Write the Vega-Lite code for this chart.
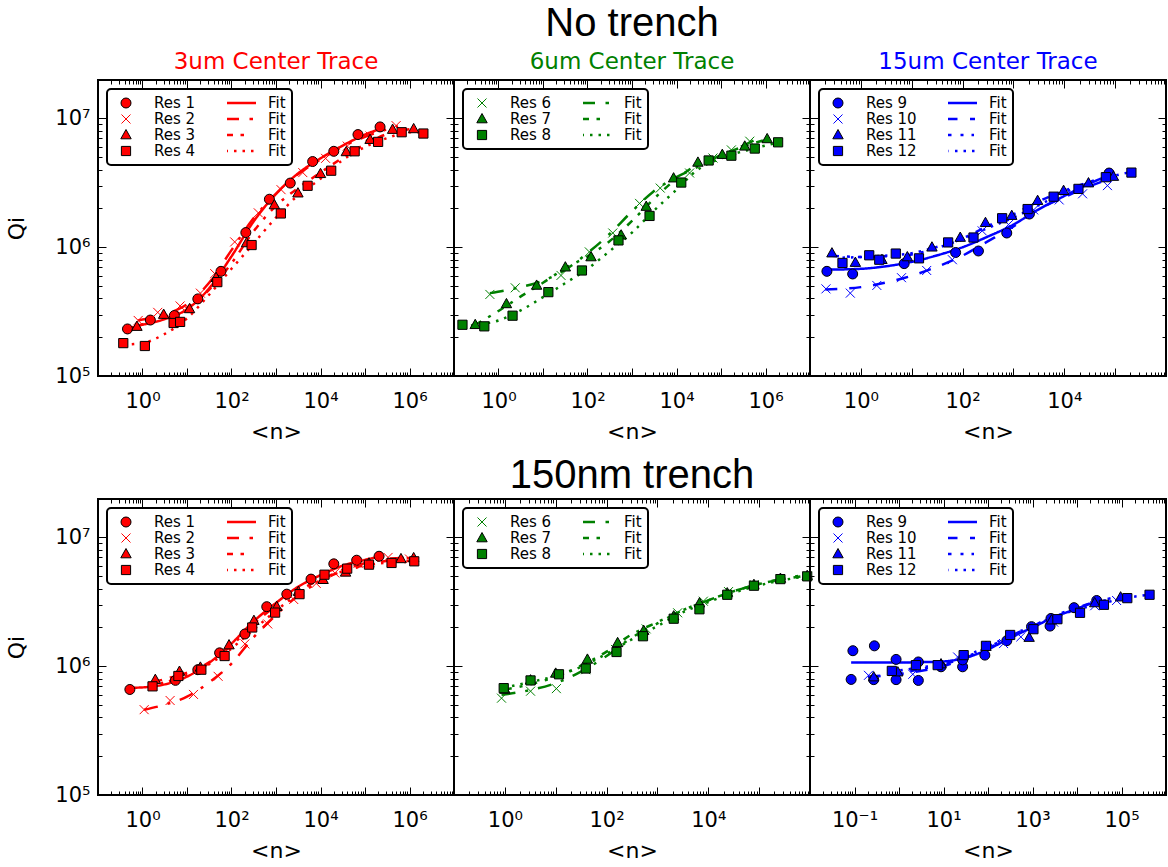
{
  "$schema": "https://vega.github.io/schema/vega-lite/v6.json",
  "background": "white",
  "padding": {"left": 4, "top": 3, "right": 0, "bottom": 0},
  "datasets": {
    "top3": [
      {"series": "Res 1", "n": 0.46, "qi": 232000}, {"series": "Res 1", "n": 1.5, "qi": 272000}, {"series": "Res 1", "n": 5.2, "qi": 295000}, {"series": "Res 1", "n": 17.5, "qi": 397000}, {"series": "Res 1", "n": 58, "qi": 650000}, {"series": "Res 1", "n": 210, "qi": 1300000}, {"series": "Res 1", "n": 710, "qi": 2360000}, {"series": "Res 1", "n": 2090, "qi": 3150000}, {"series": "Res 1", "n": 6660, "qi": 4630000}, {"series": "Res 1", "n": 19900, "qi": 5560000}, {"series": "Res 1", "n": 69500, "qi": 7500000}, {"series": "Res 1", "n": 218000, "qi": 8600000},
      {"series": "Res 2", "n": 0.8, "qi": 270000}, {"series": "Res 2", "n": 2.2, "qi": 312000}, {"series": "Res 2", "n": 7, "qi": 350000}, {"series": "Res 2", "n": 20, "qi": 440000}, {"series": "Res 2", "n": 42, "qi": 624000}, {"series": "Res 2", "n": 118, "qi": 1100000}, {"series": "Res 2", "n": 400, "qi": 1850000}, {"series": "Res 2", "n": 1300, "qi": 2800000}, {"series": "Res 2", "n": 4000, "qi": 3800000}, {"series": "Res 2", "n": 13000, "qi": 4900000}, {"series": "Res 2", "n": 40000, "qi": 6100000}, {"series": "Res 2", "n": 130000, "qi": 7300000}, {"series": "Res 2", "n": 500000, "qi": 8800000},
      {"series": "Res 3", "n": 0.75, "qi": 242000}, {"series": "Res 3", "n": 2.99, "qi": 300000}, {"series": "Res 3", "n": 11.4, "qi": 332000}, {"series": "Res 3", "n": 45, "qi": 580000}, {"series": "Res 3", "n": 218, "qi": 1080000}, {"series": "Res 3", "n": 920, "qi": 2130000}, {"series": "Res 3", "n": 3110, "qi": 2630000}, {"series": "Res 3", "n": 10000, "qi": 3720000}, {"series": "Res 3", "n": 38000, "qi": 5500000}, {"series": "Res 3", "n": 130000, "qi": 6850000}, {"series": "Res 3", "n": 417000, "qi": 8200000}, {"series": "Res 3", "n": 1240000, "qi": 8300000},
      {"series": "Res 4", "n": 0.37, "qi": 180000}, {"series": "Res 4", "n": 1.13, "qi": 171000}, {"series": "Res 4", "n": 5, "qi": 258000}, {"series": "Res 4", "n": 7, "qi": 263000}, {"series": "Res 4", "n": 48, "qi": 536000}, {"series": "Res 4", "n": 283, "qi": 1040000}, {"series": "Res 4", "n": 1285, "qi": 1830000}, {"series": "Res 4", "n": 5130, "qi": 3000000}, {"series": "Res 4", "n": 17400, "qi": 3930000}, {"series": "Res 4", "n": 58500, "qi": 5560000}, {"series": "Res 4", "n": 197000, "qi": 6580000}, {"series": "Res 4", "n": 667000, "qi": 7820000}, {"series": "Res 4", "n": 2050000, "qi": 7640000},
      {"series": "Fit 1", "n": 0.46, "qi": 235000}, {"series": "Fit 1", "n": 1, "qi": 250000}, {"series": "Fit 1", "n": 3, "qi": 275000}, {"series": "Fit 1", "n": 10, "qi": 330000}, {"series": "Fit 1", "n": 30, "qi": 470000}, {"series": "Fit 1", "n": 100, "qi": 850000}, {"series": "Fit 1", "n": 300, "qi": 1550000}, {"series": "Fit 1", "n": 1000, "qi": 2600000}, {"series": "Fit 1", "n": 3000, "qi": 3700000}, {"series": "Fit 1", "n": 10000, "qi": 4900000}, {"series": "Fit 1", "n": 30000, "qi": 6100000}, {"series": "Fit 1", "n": 100000, "qi": 7500000}, {"series": "Fit 1", "n": 218000, "qi": 8300000},
      {"series": "Fit 2", "n": 0.8, "qi": 270000}, {"series": "Fit 2", "n": 3, "qi": 300000}, {"series": "Fit 2", "n": 10, "qi": 360000}, {"series": "Fit 2", "n": 30, "qi": 520000}, {"series": "Fit 2", "n": 100, "qi": 950000}, {"series": "Fit 2", "n": 300, "qi": 1650000}, {"series": "Fit 2", "n": 1000, "qi": 2600000}, {"series": "Fit 2", "n": 3000, "qi": 3650000}, {"series": "Fit 2", "n": 10000, "qi": 4800000}, {"series": "Fit 2", "n": 30000, "qi": 6000000}, {"series": "Fit 2", "n": 100000, "qi": 7200000}, {"series": "Fit 2", "n": 300000, "qi": 8200000}, {"series": "Fit 2", "n": 550000, "qi": 8700000},
      {"series": "Fit 3", "n": 0.75, "qi": 245000}, {"series": "Fit 3", "n": 3, "qi": 285000}, {"series": "Fit 3", "n": 10, "qi": 340000}, {"series": "Fit 3", "n": 30, "qi": 460000}, {"series": "Fit 3", "n": 100, "qi": 750000}, {"series": "Fit 3", "n": 300, "qi": 1300000}, {"series": "Fit 3", "n": 1000, "qi": 2100000}, {"series": "Fit 3", "n": 3000, "qi": 2850000}, {"series": "Fit 3", "n": 10000, "qi": 3800000}, {"series": "Fit 3", "n": 30000, "qi": 4900000}, {"series": "Fit 3", "n": 100000, "qi": 6300000}, {"series": "Fit 3", "n": 400000, "qi": 7800000}, {"series": "Fit 3", "n": 1240000, "qi": 8300000},
      {"series": "Fit 4", "n": 0.37, "qi": 175000}, {"series": "Fit 4", "n": 1, "qi": 180000}, {"series": "Fit 4", "n": 3, "qi": 210000}, {"series": "Fit 4", "n": 10, "qi": 280000}, {"series": "Fit 4", "n": 30, "qi": 420000}, {"series": "Fit 4", "n": 100, "qi": 680000}, {"series": "Fit 4", "n": 300, "qi": 1050000}, {"series": "Fit 4", "n": 1000, "qi": 1700000}, {"series": "Fit 4", "n": 3000, "qi": 2500000}, {"series": "Fit 4", "n": 10000, "qi": 3400000}, {"series": "Fit 4", "n": 30000, "qi": 4700000}, {"series": "Fit 4", "n": 100000, "qi": 6000000}, {"series": "Fit 4", "n": 300000, "qi": 7000000}, {"series": "Fit 4", "n": 1000000, "qi": 7800000}, {"series": "Fit 4", "n": 2050000, "qi": 7800000}
    ],
    "top6": [
      {"series": "Res 6", "n": 0.64, "qi": 430000}, {"series": "Res 6", "n": 2.38, "qi": 484000}, {"series": "Res 6", "n": 25.4, "qi": 604000}, {"series": "Res 6", "n": 110, "qi": 920000}, {"series": "Res 6", "n": 370, "qi": 1290000}, {"series": "Res 6", "n": 1480, "qi": 2190000}, {"series": "Res 6", "n": 4310, "qi": 2880000}, {"series": "Res 6", "n": 19700, "qi": 3770000}, {"series": "Res 6", "n": 66000, "qi": 4930000}, {"series": "Res 6", "n": 171000, "qi": 5700000}, {"series": "Res 6", "n": 443000, "qi": 6660000},
      {"series": "Res 7", "n": 0.3, "qi": 250000}, {"series": "Res 7", "n": 1.51, "qi": 363000}, {"series": "Res 7", "n": 7.2, "qi": 505000}, {"series": "Res 7", "n": 31.8, "qi": 700000}, {"series": "Res 7", "n": 120, "qi": 840000}, {"series": "Res 7", "n": 571, "qi": 1240000}, {"series": "Res 7", "n": 2090, "qi": 2070000}, {"series": "Res 7", "n": 8600, "qi": 3440000}, {"series": "Res 7", "n": 30300, "qi": 4560000}, {"series": "Res 7", "n": 107000, "qi": 5240000}, {"series": "Res 7", "n": 342000, "qi": 6080000}, {"series": "Res 7", "n": 1090000, "qi": 6940000},
      {"series": "Res 8", "n": 0.155, "qi": 250000}, {"series": "Res 8", "n": 0.48, "qi": 243000}, {"series": "Res 8", "n": 2.07, "qi": 294000}, {"series": "Res 8", "n": 13.2, "qi": 448000}, {"series": "Res 8", "n": 75, "qi": 660000}, {"series": "Res 8", "n": 497, "qi": 1130000}, {"series": "Res 8", "n": 2480, "qi": 1750000}, {"series": "Res 8", "n": 12800, "qi": 3180000}, {"series": "Res 8", "n": 52800, "qi": 4720000}, {"series": "Res 8", "n": 171000, "qi": 5140000}, {"series": "Res 8", "n": 574000, "qi": 5840000}, {"series": "Res 8", "n": 1920000, "qi": 6530000},
      {"series": "Fit 6", "n": 0.64, "qi": 440000}, {"series": "Fit 6", "n": 2.4, "qi": 480000}, {"series": "Fit 6", "n": 10, "qi": 550000}, {"series": "Fit 6", "n": 30, "qi": 660000}, {"series": "Fit 6", "n": 100, "qi": 900000}, {"series": "Fit 6", "n": 300, "qi": 1250000}, {"series": "Fit 6", "n": 1000, "qi": 1900000}, {"series": "Fit 6", "n": 3000, "qi": 2700000}, {"series": "Fit 6", "n": 10000, "qi": 3500000}, {"series": "Fit 6", "n": 30000, "qi": 4200000}, {"series": "Fit 6", "n": 100000, "qi": 5200000}, {"series": "Fit 6", "n": 300000, "qi": 6100000}, {"series": "Fit 6", "n": 740000, "qi": 7100000},
      {"series": "Fit 7", "n": 0.3, "qi": 250000}, {"series": "Fit 7", "n": 1, "qi": 320000}, {"series": "Fit 7", "n": 3, "qi": 410000}, {"series": "Fit 7", "n": 10, "qi": 530000}, {"series": "Fit 7", "n": 30, "qi": 680000}, {"series": "Fit 7", "n": 100, "qi": 850000}, {"series": "Fit 7", "n": 300, "qi": 1100000}, {"series": "Fit 7", "n": 1000, "qi": 1600000}, {"series": "Fit 7", "n": 3000, "qi": 2350000}, {"series": "Fit 7", "n": 10000, "qi": 3400000}, {"series": "Fit 7", "n": 30000, "qi": 4400000}, {"series": "Fit 7", "n": 100000, "qi": 5200000}, {"series": "Fit 7", "n": 300000, "qi": 6000000}, {"series": "Fit 7", "n": 1090000, "qi": 6900000},
      {"series": "Fit 8", "n": 0.155, "qi": 245000}, {"series": "Fit 8", "n": 0.5, "qi": 255000}, {"series": "Fit 8", "n": 1, "qi": 270000}, {"series": "Fit 8", "n": 3, "qi": 320000}, {"series": "Fit 8", "n": 10, "qi": 410000}, {"series": "Fit 8", "n": 30, "qi": 520000}, {"series": "Fit 8", "n": 100, "qi": 680000}, {"series": "Fit 8", "n": 300, "qi": 920000}, {"series": "Fit 8", "n": 1000, "qi": 1300000}, {"series": "Fit 8", "n": 3000, "qi": 1900000}, {"series": "Fit 8", "n": 10000, "qi": 2800000}, {"series": "Fit 8", "n": 30000, "qi": 4000000}, {"series": "Fit 8", "n": 100000, "qi": 4900000}, {"series": "Fit 8", "n": 500000, "qi": 5800000}, {"series": "Fit 8", "n": 1920000, "qi": 6500000}
    ],
    "top15": [
      {"series": "Res 9", "n": 0.215, "qi": 650000}, {"series": "Res 9", "n": 0.69, "qi": 620000}, {"series": "Res 9", "n": 7.1, "qi": 746000}, {"series": "Res 9", "n": 73, "qi": 910000}, {"series": "Res 9", "n": 205, "qi": 935000}, {"series": "Res 9", "n": 740, "qi": 1290000}, {"series": "Res 9", "n": 2060, "qi": 1810000}, {"series": "Res 9", "n": 76000, "qi": 3770000},
      {"series": "Res 10", "n": 0.206, "qi": 475000}, {"series": "Res 10", "n": 0.62, "qi": 440000}, {"series": "Res 10", "n": 2.06, "qi": 505000}, {"series": "Res 10", "n": 6.3, "qi": 580000}, {"series": "Res 10", "n": 19.7, "qi": 660000}, {"series": "Res 10", "n": 63, "qi": 800000}, {"series": "Res 10", "n": 243, "qi": 1340000}, {"series": "Res 10", "n": 800, "qi": 1500000}, {"series": "Res 10", "n": 2500, "qi": 1950000}, {"series": "Res 10", "n": 7950, "qi": 2330000}, {"series": "Res 10", "n": 22900, "qi": 2600000}, {"series": "Res 10", "n": 70600, "qi": 3010000},
      {"series": "Res 11", "n": 0.27, "qi": 900000}, {"series": "Res 11", "n": 0.78, "qi": 760000}, {"series": "Res 11", "n": 2.6, "qi": 800000}, {"series": "Res 11", "n": 8.2, "qi": 840000}, {"series": "Res 11", "n": 25, "qi": 1000000}, {"series": "Res 11", "n": 90, "qi": 1190000}, {"series": "Res 11", "n": 282, "qi": 1550000}, {"series": "Res 11", "n": 927, "qi": 1760000}, {"series": "Res 11", "n": 2990, "qi": 2300000}, {"series": "Res 11", "n": 9690, "qi": 2750000}, {"series": "Res 11", "n": 29900, "qi": 3150000}, {"series": "Res 11", "n": 92700, "qi": 3540000},
      {"series": "Res 12", "n": 0.435, "qi": 755000}, {"series": "Res 12", "n": 1.46, "qi": 866000}, {"series": "Res 12", "n": 2.3, "qi": 800000}, {"series": "Res 12", "n": 4.86, "qi": 893000}, {"series": "Res 12", "n": 13.9, "qi": 820000}, {"series": "Res 12", "n": 52, "qi": 1090000}, {"series": "Res 12", "n": 164, "qi": 1190000}, {"series": "Res 12", "n": 600, "qi": 1680000}, {"series": "Res 12", "n": 1900, "qi": 1980000}, {"series": "Res 12", "n": 6170, "qi": 2470000}, {"series": "Res 12", "n": 19000, "qi": 2840000}, {"series": "Res 12", "n": 65700, "qi": 3500000}, {"series": "Res 12", "n": 209000, "qi": 3800000},
      {"series": "Fit 9", "n": 0.215, "qi": 670000}, {"series": "Fit 9", "n": 1, "qi": 680000}, {"series": "Fit 9", "n": 3, "qi": 710000}, {"series": "Fit 9", "n": 10, "qi": 770000}, {"series": "Fit 9", "n": 30, "qi": 860000}, {"series": "Fit 9", "n": 100, "qi": 1000000}, {"series": "Fit 9", "n": 300, "qi": 1200000}, {"series": "Fit 9", "n": 1000, "qi": 1500000}, {"series": "Fit 9", "n": 3000, "qi": 1950000}, {"series": "Fit 9", "n": 10000, "qi": 2500000}, {"series": "Fit 9", "n": 30000, "qi": 3100000}, {"series": "Fit 9", "n": 80000, "qi": 3650000},
      {"series": "Fit 10", "n": 0.2, "qi": 470000}, {"series": "Fit 10", "n": 1, "qi": 490000}, {"series": "Fit 10", "n": 3, "qi": 530000}, {"series": "Fit 10", "n": 10, "qi": 600000}, {"series": "Fit 10", "n": 30, "qi": 700000}, {"series": "Fit 10", "n": 100, "qi": 860000}, {"series": "Fit 10", "n": 300, "qi": 1100000}, {"series": "Fit 10", "n": 1000, "qi": 1450000}, {"series": "Fit 10", "n": 3000, "qi": 1950000}, {"series": "Fit 10", "n": 10000, "qi": 2450000}, {"series": "Fit 10", "n": 30000, "qi": 2950000}, {"series": "Fit 10", "n": 70600, "qi": 3350000},
      {"series": "Fit 11", "n": 0.27, "qi": 860000}, {"series": "Fit 11", "n": 1, "qi": 840000}, {"series": "Fit 11", "n": 3, "qi": 850000}, {"series": "Fit 11", "n": 10, "qi": 880000}, {"series": "Fit 11", "n": 30, "qi": 980000}, {"series": "Fit 11", "n": 100, "qi": 1170000}, {"series": "Fit 11", "n": 300, "qi": 1450000}, {"series": "Fit 11", "n": 1000, "qi": 1800000}, {"series": "Fit 11", "n": 3000, "qi": 2250000}, {"series": "Fit 11", "n": 10000, "qi": 2750000}, {"series": "Fit 11", "n": 30000, "qi": 3200000}, {"series": "Fit 11", "n": 92700, "qi": 3650000},
      {"series": "Fit 12", "n": 0.435, "qi": 830000}, {"series": "Fit 12", "n": 1, "qi": 840000}, {"series": "Fit 12", "n": 3, "qi": 860000}, {"series": "Fit 12", "n": 10, "qi": 900000}, {"series": "Fit 12", "n": 30, "qi": 1000000}, {"series": "Fit 12", "n": 100, "qi": 1150000}, {"series": "Fit 12", "n": 300, "qi": 1400000}, {"series": "Fit 12", "n": 1000, "qi": 1700000}, {"series": "Fit 12", "n": 3000, "qi": 2100000}, {"series": "Fit 12", "n": 10000, "qi": 2650000}, {"series": "Fit 12", "n": 30000, "qi": 3150000}, {"series": "Fit 12", "n": 100000, "qi": 3600000}, {"series": "Fit 12", "n": 209000, "qi": 3850000}
    ],
    "bot3": [
      {"series": "Res 1", "n": 0.52, "qi": 660000}, {"series": "Res 1", "n": 5.5, "qi": 777000}, {"series": "Res 1", "n": 17.5, "qi": 940000}, {"series": "Res 1", "n": 54, "qi": 1270000}, {"series": "Res 1", "n": 200, "qi": 1780000}, {"series": "Res 1", "n": 620, "qi": 2900000}, {"series": "Res 1", "n": 1750, "qi": 3630000}, {"series": "Res 1", "n": 6120, "qi": 4750000}, {"series": "Res 1", "n": 19900, "qi": 6240000}, {"series": "Res 1", "n": 65000, "qi": 6660000}, {"series": "Res 1", "n": 207000, "qi": 7150000},
      {"series": "Res 2", "n": 1.09, "qi": 460000}, {"series": "Res 2", "n": 4.17, "qi": 542000}, {"series": "Res 2", "n": 14, "qi": 604000}, {"series": "Res 2", "n": 50, "qi": 835000}, {"series": "Res 2", "n": 200, "qi": 1490000}, {"series": "Res 2", "n": 652, "qi": 2130000}, {"series": "Res 2", "n": 2500, "qi": 3300000}, {"series": "Res 2", "n": 8000, "qi": 4400000}, {"series": "Res 2", "n": 21000, "qi": 5300000}, {"series": "Res 2", "n": 70000, "qi": 6300000}, {"series": "Res 2", "n": 330000, "qi": 7000000}, {"series": "Res 2", "n": 1000000, "qi": 6800000},
      {"series": "Res 3", "n": 1.94, "qi": 787000}, {"series": "Res 3", "n": 6.77, "qi": 910000}, {"series": "Res 3", "n": 20, "qi": 980000}, {"series": "Res 3", "n": 88, "qi": 1460000}, {"series": "Res 3", "n": 319, "qi": 2260000}, {"series": "Res 3", "n": 1040, "qi": 2900000}, {"series": "Res 3", "n": 3200, "qi": 3800000}, {"series": "Res 3", "n": 11450, "qi": 4700000}, {"series": "Res 3", "n": 36600, "qi": 5360000}, {"series": "Res 3", "n": 123000, "qi": 6300000}, {"series": "Res 3", "n": 643000, "qi": 6820000}, {"series": "Res 3", "n": 1240000, "qi": 6940000},
      {"series": "Res 4", "n": 1.68, "qi": 698000}, {"series": "Res 4", "n": 6.4, "qi": 840000}, {"series": "Res 4", "n": 21, "qi": 940000}, {"series": "Res 4", "n": 70, "qi": 1200000}, {"series": "Res 4", "n": 292, "qi": 2000000}, {"series": "Res 4", "n": 955, "qi": 2610000}, {"series": "Res 4", "n": 3380, "qi": 3630000}, {"series": "Res 4", "n": 12300, "qi": 5140000}, {"series": "Res 4", "n": 39800, "qi": 5730000}, {"series": "Res 4", "n": 123000, "qi": 6150000}, {"series": "Res 4", "n": 395000, "qi": 6340000}, {"series": "Res 4", "n": 1280000, "qi": 6530000},
      {"series": "Fit 1", "n": 0.52, "qi": 680000}, {"series": "Fit 1", "n": 1, "qi": 685000}, {"series": "Fit 1", "n": 3, "qi": 720000}, {"series": "Fit 1", "n": 10, "qi": 830000}, {"series": "Fit 1", "n": 30, "qi": 1050000}, {"series": "Fit 1", "n": 100, "qi": 1500000}, {"series": "Fit 1", "n": 300, "qi": 2200000}, {"series": "Fit 1", "n": 1000, "qi": 3100000}, {"series": "Fit 1", "n": 3000, "qi": 4100000}, {"series": "Fit 1", "n": 10000, "qi": 5100000}, {"series": "Fit 1", "n": 30000, "qi": 6000000}, {"series": "Fit 1", "n": 100000, "qi": 6700000}, {"series": "Fit 1", "n": 207000, "qi": 7100000},
      {"series": "Fit 2", "n": 1.09, "qi": 460000}, {"series": "Fit 2", "n": 3, "qi": 500000}, {"series": "Fit 2", "n": 10, "qi": 580000}, {"series": "Fit 2", "n": 30, "qi": 740000}, {"series": "Fit 2", "n": 100, "qi": 1050000}, {"series": "Fit 2", "n": 300, "qi": 1650000}, {"series": "Fit 2", "n": 1000, "qi": 2500000}, {"series": "Fit 2", "n": 3000, "qi": 3500000}, {"series": "Fit 2", "n": 10000, "qi": 4600000}, {"series": "Fit 2", "n": 30000, "qi": 5600000}, {"series": "Fit 2", "n": 100000, "qi": 6300000}, {"series": "Fit 2", "n": 300000, "qi": 6800000}, {"series": "Fit 2", "n": 1000000, "qi": 7000000},
      {"series": "Fit 3", "n": 1.94, "qi": 760000}, {"series": "Fit 3", "n": 5, "qi": 830000}, {"series": "Fit 3", "n": 20, "qi": 980000}, {"series": "Fit 3", "n": 100, "qi": 1450000}, {"series": "Fit 3", "n": 300, "qi": 2100000}, {"series": "Fit 3", "n": 1000, "qi": 2950000}, {"series": "Fit 3", "n": 3000, "qi": 3800000}, {"series": "Fit 3", "n": 10000, "qi": 4700000}, {"series": "Fit 3", "n": 40000, "qi": 5600000}, {"series": "Fit 3", "n": 150000, "qi": 6300000}, {"series": "Fit 3", "n": 600000, "qi": 6800000}, {"series": "Fit 3", "n": 1240000, "qi": 7000000},
      {"series": "Fit 4", "n": 1.68, "qi": 710000}, {"series": "Fit 4", "n": 6, "qi": 800000}, {"series": "Fit 4", "n": 20, "qi": 950000}, {"series": "Fit 4", "n": 70, "qi": 1250000}, {"series": "Fit 4", "n": 300, "qi": 1900000}, {"series": "Fit 4", "n": 1000, "qi": 2700000}, {"series": "Fit 4", "n": 3000, "qi": 3600000}, {"series": "Fit 4", "n": 12000, "qi": 4800000}, {"series": "Fit 4", "n": 40000, "qi": 5600000}, {"series": "Fit 4", "n": 120000, "qi": 6100000}, {"series": "Fit 4", "n": 400000, "qi": 6450000}, {"series": "Fit 4", "n": 1280000, "qi": 6600000}
    ],
    "bot6": [
      {"series": "Res 6", "n": 0.86, "qi": 565000}, {"series": "Res 6", "n": 3.2, "qi": 640000}, {"series": "Res 6", "n": 10.3, "qi": 670000}, {"series": "Res 6", "n": 39, "qi": 940000}, {"series": "Res 6", "n": 150, "qi": 1350000}, {"series": "Res 6", "n": 600, "qi": 1950000}, {"series": "Res 6", "n": 2500, "qi": 2600000}, {"series": "Res 6", "n": 8000, "qi": 3200000}, {"series": "Res 6", "n": 25000, "qi": 3800000}, {"series": "Res 6", "n": 80000, "qi": 4300000}, {"series": "Res 6", "n": 260000, "qi": 4800000}, {"series": "Res 6", "n": 880000, "qi": 5000000},
      {"series": "Res 7", "n": 1, "qi": 660000}, {"series": "Res 7", "n": 3.2, "qi": 780000}, {"series": "Res 7", "n": 10, "qi": 880000}, {"series": "Res 7", "n": 42, "qi": 1130000}, {"series": "Res 7", "n": 165, "qi": 1520000}, {"series": "Res 7", "n": 537, "qi": 1890000}, {"series": "Res 7", "n": 2090, "qi": 2450000}, {"series": "Res 7", "n": 6700, "qi": 3090000}, {"series": "Res 7", "n": 23600, "qi": 3700000}, {"series": "Res 7", "n": 79000, "qi": 4300000}, {"series": "Res 7", "n": 262000, "qi": 4800000}, {"series": "Res 7", "n": 881000, "qi": 5050000},
      {"series": "Res 8", "n": 0.95, "qi": 676000}, {"series": "Res 8", "n": 3.2, "qi": 776000}, {"series": "Res 8", "n": 11.6, "qi": 866000}, {"series": "Res 8", "n": 39, "qi": 960000}, {"series": "Res 8", "n": 157, "qi": 1290000}, {"series": "Res 8", "n": 520, "qi": 1710000}, {"series": "Res 8", "n": 2090, "qi": 2340000}, {"series": "Res 8", "n": 6700, "qi": 2770000}, {"series": "Res 8", "n": 23600, "qi": 3590000}, {"series": "Res 8", "n": 79000, "qi": 4220000}, {"series": "Res 8", "n": 262000, "qi": 4750000}, {"series": "Res 8", "n": 881000, "qi": 4990000},
      {"series": "Fit 6", "n": 0.86, "qi": 600000}, {"series": "Fit 6", "n": 3, "qi": 650000}, {"series": "Fit 6", "n": 10, "qi": 740000}, {"series": "Fit 6", "n": 30, "qi": 900000}, {"series": "Fit 6", "n": 100, "qi": 1200000}, {"series": "Fit 6", "n": 300, "qi": 1650000}, {"series": "Fit 6", "n": 1000, "qi": 2150000}, {"series": "Fit 6", "n": 3000, "qi": 2700000}, {"series": "Fit 6", "n": 10000, "qi": 3250000}, {"series": "Fit 6", "n": 30000, "qi": 3800000}, {"series": "Fit 6", "n": 100000, "qi": 4350000}, {"series": "Fit 6", "n": 300000, "qi": 4800000}, {"series": "Fit 6", "n": 1000000, "qi": 5200000},
      {"series": "Fit 7", "n": 1, "qi": 660000}, {"series": "Fit 7", "n": 3, "qi": 720000}, {"series": "Fit 7", "n": 10, "qi": 830000}, {"series": "Fit 7", "n": 30, "qi": 1000000}, {"series": "Fit 7", "n": 100, "qi": 1300000}, {"series": "Fit 7", "n": 300, "qi": 1750000}, {"series": "Fit 7", "n": 1000, "qi": 2200000}, {"series": "Fit 7", "n": 3000, "qi": 2700000}, {"series": "Fit 7", "n": 10000, "qi": 3250000}, {"series": "Fit 7", "n": 30000, "qi": 3800000}, {"series": "Fit 7", "n": 100000, "qi": 4350000}, {"series": "Fit 7", "n": 1000000, "qi": 5100000},
      {"series": "Fit 8", "n": 0.95, "qi": 680000}, {"series": "Fit 8", "n": 3, "qi": 750000}, {"series": "Fit 8", "n": 10, "qi": 840000}, {"series": "Fit 8", "n": 30, "qi": 980000}, {"series": "Fit 8", "n": 100, "qi": 1250000}, {"series": "Fit 8", "n": 300, "qi": 1600000}, {"series": "Fit 8", "n": 1000, "qi": 2050000}, {"series": "Fit 8", "n": 3000, "qi": 2600000}, {"series": "Fit 8", "n": 10000, "qi": 3150000}, {"series": "Fit 8", "n": 30000, "qi": 3700000}, {"series": "Fit 8", "n": 100000, "qi": 4250000}, {"series": "Fit 8", "n": 1000000, "qi": 5050000}
    ],
    "bot15": [
      {"series": "Res 9", "n": 0.092, "qi": 1320000}, {"series": "Res 9", "n": 0.28, "qi": 1440000}, {"series": "Res 9", "n": 0.084, "qi": 790000}, {"series": "Res 9", "n": 0.27, "qi": 787000}, {"series": "Res 9", "n": 0.86, "qi": 1130000}, {"series": "Res 9", "n": 0.86, "qi": 787000}, {"series": "Res 9", "n": 2.72, "qi": 1080000}, {"series": "Res 9", "n": 2.72, "qi": 776000}, {"series": "Res 9", "n": 8.8, "qi": 990000}, {"series": "Res 9", "n": 26.9, "qi": 990000}, {"series": "Res 9", "n": 27, "qi": 1120000}, {"series": "Res 9", "n": 85, "qi": 1220000}, {"series": "Res 9", "n": 265, "qi": 1580000}, {"series": "Res 9", "n": 950, "qi": 2030000}, {"series": "Res 9", "n": 2480, "qi": 2050000}, {"series": "Res 9", "n": 2600, "qi": 2350000}, {"series": "Res 9", "n": 8570, "qi": 2850000}, {"series": "Res 9", "n": 27700, "qi": 3240000},
      {"series": "Res 10", "n": 0.206, "qi": 850000}, {"series": "Res 10", "n": 2.04, "qi": 866000}, {"series": "Res 10", "n": 20.8, "qi": 1180000}, {"series": "Res 10", "n": 224, "qi": 1500000}, {"series": "Res 10", "n": 547, "qi": 1690000}, {"series": "Res 10", "n": 3000, "qi": 2200000}, {"series": "Res 10", "n": 25000, "qi": 2950000}, {"series": "Res 10", "n": 77600, "qi": 3240000},
      {"series": "Res 11", "n": 0.27, "qi": 824000}, {"series": "Res 11", "n": 0.94, "qi": 900000}, {"series": "Res 11", "n": 8.8, "qi": 1040000}, {"series": "Res 11", "n": 90, "qi": 1420000}, {"series": "Res 11", "n": 840, "qi": 1670000}, {"series": "Res 11", "n": 2670, "qi": 2280000}, {"series": "Res 11", "n": 25000, "qi": 3100000}, {"series": "Res 11", "n": 95500, "qi": 3440000},
      {"series": "Res 12", "n": 0.69, "qi": 920000}, {"series": "Res 12", "n": 2.4, "qi": 1020000}, {"series": "Res 12", "n": 7.4, "qi": 1020000}, {"series": "Res 12", "n": 28.4, "qi": 1220000}, {"series": "Res 12", "n": 90, "qi": 1440000}, {"series": "Res 12", "n": 315, "qi": 1750000}, {"series": "Res 12", "n": 1050, "qi": 1940000}, {"series": "Res 12", "n": 3630, "qi": 2320000}, {"series": "Res 12", "n": 11700, "qi": 2600000}, {"series": "Res 12", "n": 40300, "qi": 3000000}, {"series": "Res 12", "n": 135000, "qi": 3380000}, {"series": "Res 12", "n": 427000, "qi": 3590000},
      {"series": "Fit 9", "n": 0.084, "qi": 1070000}, {"series": "Fit 9", "n": 0.3, "qi": 1070000}, {"series": "Fit 9", "n": 1, "qi": 1070000}, {"series": "Fit 9", "n": 3, "qi": 1075000}, {"series": "Fit 9", "n": 10, "qi": 1090000}, {"series": "Fit 9", "n": 30, "qi": 1160000}, {"series": "Fit 9", "n": 100, "qi": 1350000}, {"series": "Fit 9", "n": 300, "qi": 1650000}, {"series": "Fit 9", "n": 1000, "qi": 2000000}, {"series": "Fit 9", "n": 3000, "qi": 2400000}, {"series": "Fit 9", "n": 10000, "qi": 2800000}, {"series": "Fit 9", "n": 27700, "qi": 3200000},
      {"series": "Fit 10", "n": 0.2, "qi": 830000}, {"series": "Fit 10", "n": 1, "qi": 870000}, {"series": "Fit 10", "n": 3, "qi": 920000}, {"series": "Fit 10", "n": 10, "qi": 1000000}, {"series": "Fit 10", "n": 30, "qi": 1150000}, {"series": "Fit 10", "n": 100, "qi": 1380000}, {"series": "Fit 10", "n": 300, "qi": 1650000}, {"series": "Fit 10", "n": 1000, "qi": 2000000}, {"series": "Fit 10", "n": 3000, "qi": 2400000}, {"series": "Fit 10", "n": 10000, "qi": 2800000}, {"series": "Fit 10", "n": 30000, "qi": 3150000}, {"series": "Fit 10", "n": 77600, "qi": 3400000},
      {"series": "Fit 11", "n": 0.27, "qi": 830000}, {"series": "Fit 11", "n": 1, "qi": 880000}, {"series": "Fit 11", "n": 3, "qi": 950000}, {"series": "Fit 11", "n": 10, "qi": 1030000}, {"series": "Fit 11", "n": 30, "qi": 1170000}, {"series": "Fit 11", "n": 100, "qi": 1400000}, {"series": "Fit 11", "n": 300, "qi": 1700000}, {"series": "Fit 11", "n": 1000, "qi": 2050000}, {"series": "Fit 11", "n": 3000, "qi": 2450000}, {"series": "Fit 11", "n": 10000, "qi": 2850000}, {"series": "Fit 11", "n": 30000, "qi": 3200000}, {"series": "Fit 11", "n": 95500, "qi": 3500000},
      {"series": "Fit 12", "n": 0.69, "qi": 910000}, {"series": "Fit 12", "n": 3, "qi": 980000}, {"series": "Fit 12", "n": 10, "qi": 1050000}, {"series": "Fit 12", "n": 30, "qi": 1200000}, {"series": "Fit 12", "n": 100, "qi": 1420000}, {"series": "Fit 12", "n": 300, "qi": 1720000}, {"series": "Fit 12", "n": 1000, "qi": 2050000}, {"series": "Fit 12", "n": 3000, "qi": 2400000}, {"series": "Fit 12", "n": 10000, "qi": 2750000}, {"series": "Fit 12", "n": 40000, "qi": 3100000}, {"series": "Fit 12", "n": 135000, "qi": 3400000}, {"series": "Fit 12", "n": 427000, "qi": 3600000}
    ]
  },
  "vconcat": [
    {
      "title": {"text": "No trench", "anchor": "middle", "frame": "group", "dx": 534, "font": "Liberation Sans", "fontSize": 40, "fontWeight": "normal", "color": "#000000", "offset": 6},
      "bounds": "flush",
      "spacing": 0,
      "hconcat": [
        {
          "width": 356, "height": 296,
          "title": {"text": "3um Center Trace", "color": "#ff0000", "font": "DejaVu Sans", "fontSize": 23, "fontWeight": "normal", "anchor": "middle", "offset": 6},
          "data": {"name": "top3"},
          "layer": [
            {
              "transform": [{"filter": "indexof(datum.series, 'Fit') == 0"}],
              "mark": {"type": "line", "color": "#ff0000", "strokeWidth": 2.5, "interpolate": "monotone"},
              "encoding": {
                "x": {"field": "n", "type": "quantitative", "scale": {"type": "log", "domain": [0.1, 10000000], "nice": false}, "axis": {"orient": "bottom", "title": "<n>", "tickCount": 30, "labelExpr": "datum.value == 1 ? '10⁰' : datum.value == 100 ? '10²' : datum.value == 10000 ? '10⁴' : datum.value == 1000000 ? '10⁶' : ''", "tickSize": {"condition": {"test": "abs(log(datum.value)/LN10 - round(log(datum.value)/LN10)) < 0.001", "value": -8}, "value": -4}, "labelPadding": 22, "titlePadding": 6}},
                "y": {"field": "qi", "type": "quantitative", "scale": {"type": "log", "domain": [100000, 19900000], "nice": false}, "axis": {"orient": "left", "title": "Qi", "tickCount": 30, "labelExpr": "datum.value == 100000 ? '10⁵' : datum.value == 1000000 ? '10⁶' : datum.value == 10000000 ? '10⁷' : ''", "tickSize": {"condition": {"test": "abs(log(datum.value)/LN10 - round(log(datum.value)/LN10)) < 0.001", "value": -8}, "value": -4}, "labelPadding": 16, "titlePadding": 26}},
                "strokeDash": {"field": "series", "type": "nominal", "scale": {"domain": ["Fit 1", "Fit 2", "Fit 3", "Fit 4"], "range": [[1, 0], [14, 10, 3, 10], [7, 8, 3, 8], [2.5, 6]]}, "legend": null}
              }
            },
            {
              "transform": [{"filter": "indexof(datum.series, 'Res') == 0"}],
              "mark": {"type": "point", "filled": true, "opacity": 1, "size": 400, "strokeWidth": 1},
              "encoding": {
                "x": {"field": "n", "type": "quantitative", "scale": {"type": "log", "domain": [0.1, 10000000], "nice": false}, "axis": {"orient": "top", "title": null, "labels": false, "tickCount": 30, "tickSize": {"condition": {"test": "abs(log(datum.value)/LN10 - round(log(datum.value)/LN10)) < 0.001", "value": -8}, "value": -4}}},
                "y": {"field": "qi", "type": "quantitative", "scale": {"type": "log", "domain": [100000, 19900000], "nice": false}, "axis": {"orient": "right", "title": null, "labels": false, "tickCount": 30, "tickSize": {"condition": {"test": "abs(log(datum.value)/LN10 - round(log(datum.value)/LN10)) < 0.001", "value": -8}, "value": -4}}},
                "shape": {"field": "series", "type": "nominal", "title": null, "legend": {"labelExpr": "indexof(datum.label, 'Fit') == 0 ? 'Fit' : datum.label"}, "scale": {"domain": ["Res 1", "Res 2", "Res 3", "Res 4", "Fit 1", "Fit 2", "Fit 3", "Fit 4"], "range": ["M-0.5,0A0.5,0.5,0,1,0,0.5,0A0.5,0.5,0,1,0,-0.5,0Z", "M-0.45,-0.45L0.45,0.45M-0.45,0.45L0.45,-0.45", "M0,-0.55L0.52,0.38L-0.52,0.38Z", "M-0.46,-0.46H0.46V0.46H-0.46Z", "M-1.6,-0.12H1.6V0.12H-1.6Z", "M-1.6,-0.12H-0.1V0.12H-1.6Z M0.95,-0.12H1.3V0.12H0.95Z", "M-1.5,-0.12H-0.7V0.12H-1.5Z M0.05,-0.12H0.4V0.12H0.05Z", "M-1.45,-0.12H-1.2V0.12H-1.45Z M-0.6,-0.12H-0.35V0.12H-0.6Z M0.25,-0.12H0.5V0.12H0.25Z M1.1,-0.12H1.35V0.12H1.1Z"]}},
                "fill": {"field": "series", "type": "nominal", "title": null, "legend": {"labelExpr": "indexof(datum.label, 'Fit') == 0 ? 'Fit' : datum.label"}, "scale": {"domain": ["Res 1", "Res 2", "Res 3", "Res 4", "Fit 1", "Fit 2", "Fit 3", "Fit 4"], "range": ["#ff0000", "transparent", "#ff0000", "#ff0000", "#ff0000", "#ff0000", "#ff0000", "#ff0000"]}},
                "stroke": {"field": "series", "type": "nominal", "title": null, "legend": {"labelExpr": "indexof(datum.label, 'Fit') == 0 ? 'Fit' : datum.label"}, "scale": {"domain": ["Res 1", "Res 2", "Res 3", "Res 4", "Fit 1", "Fit 2", "Fit 3", "Fit 4"], "range": ["#000000", "#ff0000", "#000000", "#000000", "transparent", "transparent", "transparent", "transparent"]}}
              }
            }
          ],
          "resolve": {"axis": {"x": "independent", "y": "independent"}}
        },
        {
          "width": 356, "height": 296,
          "title": {"text": "6um Center Trace", "color": "#008000", "font": "DejaVu Sans", "fontSize": 23, "fontWeight": "normal", "anchor": "middle", "offset": 6},
          "data": {"name": "top6"},
          "layer": [
            {
              "transform": [{"filter": "indexof(datum.series, 'Fit') == 0"}],
              "mark": {"type": "line", "color": "#008000", "strokeWidth": 2.5, "interpolate": "monotone"},
              "encoding": {
                "x": {"field": "n", "type": "quantitative", "scale": {"type": "log", "domain": [0.1, 10000000], "nice": false}, "axis": {"orient": "bottom", "title": "<n>", "tickCount": 30, "labelExpr": "datum.value == 1 ? '10⁰' : datum.value == 100 ? '10²' : datum.value == 10000 ? '10⁴' : datum.value == 1000000 ? '10⁶' : ''", "tickSize": {"condition": {"test": "abs(log(datum.value)/LN10 - round(log(datum.value)/LN10)) < 0.001", "value": -8}, "value": -4}, "labelPadding": 22, "titlePadding": 6}},
                "y": {"field": "qi", "type": "quantitative", "scale": {"type": "log", "domain": [100000, 19900000], "nice": false}, "axis": {"orient": "left", "title": null, "labels": false, "tickCount": 30, "tickSize": {"condition": {"test": "abs(log(datum.value)/LN10 - round(log(datum.value)/LN10)) < 0.001", "value": -8}, "value": -4}}},
                "strokeDash": {"field": "series", "type": "nominal", "scale": {"domain": ["Fit 6", "Fit 7", "Fit 8"], "range": [[14, 10, 3, 10], [7, 8, 3, 8], [2.5, 6]]}, "legend": null}
              }
            },
            {
              "transform": [{"filter": "indexof(datum.series, 'Res') == 0"}],
              "mark": {"type": "point", "filled": true, "opacity": 1, "size": 400, "strokeWidth": 1},
              "encoding": {
                "x": {"field": "n", "type": "quantitative", "scale": {"type": "log", "domain": [0.1, 10000000], "nice": false}, "axis": {"orient": "top", "title": null, "labels": false, "tickCount": 30, "tickSize": {"condition": {"test": "abs(log(datum.value)/LN10 - round(log(datum.value)/LN10)) < 0.001", "value": -8}, "value": -4}}},
                "y": {"field": "qi", "type": "quantitative", "scale": {"type": "log", "domain": [100000, 19900000], "nice": false}, "axis": {"orient": "right", "title": null, "labels": false, "tickCount": 30, "tickSize": {"condition": {"test": "abs(log(datum.value)/LN10 - round(log(datum.value)/LN10)) < 0.001", "value": -8}, "value": -4}}},
                "shape": {"field": "series", "type": "nominal", "title": null, "legend": {"labelExpr": "indexof(datum.label, 'Fit') == 0 ? 'Fit' : datum.label"}, "scale": {"domain": ["Res 6", "Res 7", "Res 8", "Fit 6", "Fit 7", "Fit 8"], "range": ["M-0.45,-0.45L0.45,0.45M-0.45,0.45L0.45,-0.45", "M0,-0.55L0.52,0.38L-0.52,0.38Z", "M-0.46,-0.46H0.46V0.46H-0.46Z", "M-1.6,-0.12H-0.1V0.12H-1.6Z M0.95,-0.12H1.3V0.12H0.95Z", "M-1.5,-0.12H-0.7V0.12H-1.5Z M0.05,-0.12H0.4V0.12H0.05Z", "M-1.45,-0.12H-1.2V0.12H-1.45Z M-0.6,-0.12H-0.35V0.12H-0.6Z M0.25,-0.12H0.5V0.12H0.25Z M1.1,-0.12H1.35V0.12H1.1Z"]}},
                "fill": {"field": "series", "type": "nominal", "title": null, "legend": {"labelExpr": "indexof(datum.label, 'Fit') == 0 ? 'Fit' : datum.label"}, "scale": {"domain": ["Res 6", "Res 7", "Res 8", "Fit 6", "Fit 7", "Fit 8"], "range": ["transparent", "#008000", "#008000", "#008000", "#008000", "#008000"]}},
                "stroke": {"field": "series", "type": "nominal", "title": null, "legend": {"labelExpr": "indexof(datum.label, 'Fit') == 0 ? 'Fit' : datum.label"}, "scale": {"domain": ["Res 6", "Res 7", "Res 8", "Fit 6", "Fit 7", "Fit 8"], "range": ["#008000", "#000000", "#000000", "transparent", "transparent", "transparent"]}}
              }
            }
          ],
          "resolve": {"axis": {"x": "independent", "y": "independent"}}
        },
        {
          "width": 356, "height": 296,
          "title": {"text": "15um Center Trace", "color": "#0000ff", "font": "DejaVu Sans", "fontSize": 23, "fontWeight": "normal", "anchor": "middle", "offset": 6},
          "data": {"name": "top15"},
          "layer": [
            {
              "transform": [{"filter": "indexof(datum.series, 'Fit') == 0"}],
              "mark": {"type": "line", "color": "#0000ff", "strokeWidth": 2.5, "interpolate": "monotone"},
              "encoding": {
                "x": {"field": "n", "type": "quantitative", "scale": {"type": "log", "domain": [0.1, 1000000], "nice": false}, "axis": {"orient": "bottom", "title": "<n>", "tickCount": 30, "labelExpr": "datum.value == 1 ? '10⁰' : datum.value == 100 ? '10²' : datum.value == 10000 ? '10⁴' : ''", "tickSize": {"condition": {"test": "abs(log(datum.value)/LN10 - round(log(datum.value)/LN10)) < 0.001", "value": -8}, "value": -4}, "labelPadding": 22, "titlePadding": 6}},
                "y": {"field": "qi", "type": "quantitative", "scale": {"type": "log", "domain": [100000, 19900000], "nice": false}, "axis": {"orient": "left", "title": null, "labels": false, "tickCount": 30, "tickSize": {"condition": {"test": "abs(log(datum.value)/LN10 - round(log(datum.value)/LN10)) < 0.001", "value": -8}, "value": -4}}},
                "strokeDash": {"field": "series", "type": "nominal", "scale": {"domain": ["Fit 9", "Fit 10", "Fit 11", "Fit 12"], "range": [[1, 0], [12, 12], [7, 8, 3, 8, 3, 8], [2.5, 6]]}, "legend": null}
              }
            },
            {
              "transform": [{"filter": "indexof(datum.series, 'Res') == 0"}],
              "mark": {"type": "point", "filled": true, "opacity": 1, "size": 400, "strokeWidth": 1},
              "encoding": {
                "x": {"field": "n", "type": "quantitative", "scale": {"type": "log", "domain": [0.1, 1000000], "nice": false}, "axis": {"orient": "top", "title": null, "labels": false, "tickCount": 30, "tickSize": {"condition": {"test": "abs(log(datum.value)/LN10 - round(log(datum.value)/LN10)) < 0.001", "value": -8}, "value": -4}}},
                "y": {"field": "qi", "type": "quantitative", "scale": {"type": "log", "domain": [100000, 19900000], "nice": false}, "axis": {"orient": "right", "title": null, "labels": false, "tickCount": 30, "tickSize": {"condition": {"test": "abs(log(datum.value)/LN10 - round(log(datum.value)/LN10)) < 0.001", "value": -8}, "value": -4}}},
                "shape": {"field": "series", "type": "nominal", "title": null, "legend": {"labelExpr": "indexof(datum.label, 'Fit') == 0 ? 'Fit' : datum.label"}, "scale": {"domain": ["Res 9", "Res 10", "Res 11", "Res 12", "Fit 9", "Fit 10", "Fit 11", "Fit 12"], "range": ["M-0.5,0A0.5,0.5,0,1,0,0.5,0A0.5,0.5,0,1,0,-0.5,0Z", "M-0.45,-0.45L0.45,0.45M-0.45,0.45L0.45,-0.45", "M0,-0.55L0.52,0.38L-0.52,0.38Z", "M-0.46,-0.46H0.46V0.46H-0.46Z", "M-1.6,-0.12H1.6V0.12H-1.6Z", "M-1.55,-0.12H-0.35V0.12H-1.55Z M0.9,-0.12H1.4V0.12H0.9Z", "M-1.55,-0.12H-0.95V0.12H-1.55Z M-0.05,-0.12H0.25V0.12H-0.05Z M1.05,-0.12H1.3V0.12H1.05Z", "M-1.5,-0.12H-1.25V0.12H-1.5Z M-0.6,-0.12H-0.35V0.12H-0.6Z M0.25,-0.12H0.5V0.12H0.25Z M1.1,-0.12H1.35V0.12H1.1Z"]}},
                "fill": {"field": "series", "type": "nominal", "title": null, "legend": {"labelExpr": "indexof(datum.label, 'Fit') == 0 ? 'Fit' : datum.label"}, "scale": {"domain": ["Res 9", "Res 10", "Res 11", "Res 12", "Fit 9", "Fit 10", "Fit 11", "Fit 12"], "range": ["#0000ff", "transparent", "#0000ff", "#0000ff", "#0000ff", "#0000ff", "#0000ff", "#0000ff"]}},
                "stroke": {"field": "series", "type": "nominal", "title": null, "legend": {"labelExpr": "indexof(datum.label, 'Fit') == 0 ? 'Fit' : datum.label"}, "scale": {"domain": ["Res 9", "Res 10", "Res 11", "Res 12", "Fit 9", "Fit 10", "Fit 11", "Fit 12"], "range": ["#000000", "#0000ff", "#000000", "#000000", "transparent", "transparent", "transparent", "transparent"]}}
              }
            }
          ],
          "resolve": {"axis": {"x": "independent", "y": "independent"}}
        }
      ],
      "resolve": {"scale": {"x": "independent", "y": "independent", "shape": "independent", "fill": "independent", "stroke": "independent", "strokeDash": "independent"}, "legend": {"shape": "independent", "fill": "independent", "stroke": "independent"}}
    },
    {
      "title": {"text": "150nm trench", "anchor": "middle", "frame": "group", "dx": 534, "font": "Liberation Sans", "fontSize": 40, "fontWeight": "normal", "color": "#000000", "offset": 2},
      "bounds": "flush",
      "spacing": 0,
      "hconcat": [
        {
          "width": 356, "height": 296,
          "data": {"name": "bot3"},
          "layer": [
            {
              "transform": [{"filter": "indexof(datum.series, 'Fit') == 0"}],
              "mark": {"type": "line", "color": "#ff0000", "strokeWidth": 2.5, "interpolate": "monotone"},
              "encoding": {
                "x": {"field": "n", "type": "quantitative", "scale": {"type": "log", "domain": [0.1, 10000000], "nice": false}, "axis": {"orient": "bottom", "title": "<n>", "tickCount": 30, "labelExpr": "datum.value == 1 ? '10⁰' : datum.value == 100 ? '10²' : datum.value == 10000 ? '10⁴' : datum.value == 1000000 ? '10⁶' : ''", "tickSize": {"condition": {"test": "abs(log(datum.value)/LN10 - round(log(datum.value)/LN10)) < 0.001", "value": -8}, "value": -4}, "labelPadding": 22, "titlePadding": 6}},
                "y": {"field": "qi", "type": "quantitative", "scale": {"type": "log", "domain": [100000, 19900000], "nice": false}, "axis": {"orient": "left", "title": "Qi", "tickCount": 30, "labelExpr": "datum.value == 100000 ? '10⁵' : datum.value == 1000000 ? '10⁶' : datum.value == 10000000 ? '10⁷' : ''", "tickSize": {"condition": {"test": "abs(log(datum.value)/LN10 - round(log(datum.value)/LN10)) < 0.001", "value": -8}, "value": -4}, "labelPadding": 16, "titlePadding": 26}},
                "strokeDash": {"field": "series", "type": "nominal", "scale": {"domain": ["Fit 1", "Fit 2", "Fit 3", "Fit 4"], "range": [[1, 0], [14, 10, 3, 10], [7, 8, 3, 8], [2.5, 6]]}, "legend": null}
              }
            },
            {
              "transform": [{"filter": "indexof(datum.series, 'Res') == 0"}],
              "mark": {"type": "point", "filled": true, "opacity": 1, "size": 400, "strokeWidth": 1},
              "encoding": {
                "x": {"field": "n", "type": "quantitative", "scale": {"type": "log", "domain": [0.1, 10000000], "nice": false}, "axis": {"orient": "top", "title": null, "labels": false, "tickCount": 30, "tickSize": {"condition": {"test": "abs(log(datum.value)/LN10 - round(log(datum.value)/LN10)) < 0.001", "value": -8}, "value": -4}}},
                "y": {"field": "qi", "type": "quantitative", "scale": {"type": "log", "domain": [100000, 19900000], "nice": false}, "axis": {"orient": "right", "title": null, "labels": false, "tickCount": 30, "tickSize": {"condition": {"test": "abs(log(datum.value)/LN10 - round(log(datum.value)/LN10)) < 0.001", "value": -8}, "value": -4}}},
                "shape": {"field": "series", "type": "nominal", "title": null, "legend": {"labelExpr": "indexof(datum.label, 'Fit') == 0 ? 'Fit' : datum.label"}, "scale": {"domain": ["Res 1", "Res 2", "Res 3", "Res 4", "Fit 1", "Fit 2", "Fit 3", "Fit 4"], "range": ["M-0.5,0A0.5,0.5,0,1,0,0.5,0A0.5,0.5,0,1,0,-0.5,0Z", "M-0.45,-0.45L0.45,0.45M-0.45,0.45L0.45,-0.45", "M0,-0.55L0.52,0.38L-0.52,0.38Z", "M-0.46,-0.46H0.46V0.46H-0.46Z", "M-1.6,-0.12H1.6V0.12H-1.6Z", "M-1.6,-0.12H-0.1V0.12H-1.6Z M0.95,-0.12H1.3V0.12H0.95Z", "M-1.5,-0.12H-0.7V0.12H-1.5Z M0.05,-0.12H0.4V0.12H0.05Z", "M-1.45,-0.12H-1.2V0.12H-1.45Z M-0.6,-0.12H-0.35V0.12H-0.6Z M0.25,-0.12H0.5V0.12H0.25Z M1.1,-0.12H1.35V0.12H1.1Z"]}},
                "fill": {"field": "series", "type": "nominal", "title": null, "legend": {"labelExpr": "indexof(datum.label, 'Fit') == 0 ? 'Fit' : datum.label"}, "scale": {"domain": ["Res 1", "Res 2", "Res 3", "Res 4", "Fit 1", "Fit 2", "Fit 3", "Fit 4"], "range": ["#ff0000", "transparent", "#ff0000", "#ff0000", "#ff0000", "#ff0000", "#ff0000", "#ff0000"]}},
                "stroke": {"field": "series", "type": "nominal", "title": null, "legend": {"labelExpr": "indexof(datum.label, 'Fit') == 0 ? 'Fit' : datum.label"}, "scale": {"domain": ["Res 1", "Res 2", "Res 3", "Res 4", "Fit 1", "Fit 2", "Fit 3", "Fit 4"], "range": ["#000000", "#ff0000", "#000000", "#000000", "transparent", "transparent", "transparent", "transparent"]}}
              }
            }
          ],
          "resolve": {"axis": {"x": "independent", "y": "independent"}}
        },
        {
          "width": 356, "height": 296,
          "data": {"name": "bot6"},
          "layer": [
            {
              "transform": [{"filter": "indexof(datum.series, 'Fit') == 0"}],
              "mark": {"type": "line", "color": "#008000", "strokeWidth": 2.5, "interpolate": "monotone"},
              "encoding": {
                "x": {"field": "n", "type": "quantitative", "scale": {"type": "log", "domain": [0.1, 1000000], "nice": false}, "axis": {"orient": "bottom", "title": "<n>", "tickCount": 30, "labelExpr": "datum.value == 1 ? '10⁰' : datum.value == 100 ? '10²' : datum.value == 10000 ? '10⁴' : ''", "tickSize": {"condition": {"test": "abs(log(datum.value)/LN10 - round(log(datum.value)/LN10)) < 0.001", "value": -8}, "value": -4}, "labelPadding": 22, "titlePadding": 6}},
                "y": {"field": "qi", "type": "quantitative", "scale": {"type": "log", "domain": [100000, 19900000], "nice": false}, "axis": {"orient": "left", "title": null, "labels": false, "tickCount": 30, "tickSize": {"condition": {"test": "abs(log(datum.value)/LN10 - round(log(datum.value)/LN10)) < 0.001", "value": -8}, "value": -4}}},
                "strokeDash": {"field": "series", "type": "nominal", "scale": {"domain": ["Fit 6", "Fit 7", "Fit 8"], "range": [[14, 10, 3, 10], [7, 8, 3, 8], [2.5, 6]]}, "legend": null}
              }
            },
            {
              "transform": [{"filter": "indexof(datum.series, 'Res') == 0"}],
              "mark": {"type": "point", "filled": true, "opacity": 1, "size": 400, "strokeWidth": 1},
              "encoding": {
                "x": {"field": "n", "type": "quantitative", "scale": {"type": "log", "domain": [0.1, 1000000], "nice": false}, "axis": {"orient": "top", "title": null, "labels": false, "tickCount": 30, "tickSize": {"condition": {"test": "abs(log(datum.value)/LN10 - round(log(datum.value)/LN10)) < 0.001", "value": -8}, "value": -4}}},
                "y": {"field": "qi", "type": "quantitative", "scale": {"type": "log", "domain": [100000, 19900000], "nice": false}, "axis": {"orient": "right", "title": null, "labels": false, "tickCount": 30, "tickSize": {"condition": {"test": "abs(log(datum.value)/LN10 - round(log(datum.value)/LN10)) < 0.001", "value": -8}, "value": -4}}},
                "shape": {"field": "series", "type": "nominal", "title": null, "legend": {"labelExpr": "indexof(datum.label, 'Fit') == 0 ? 'Fit' : datum.label"}, "scale": {"domain": ["Res 6", "Res 7", "Res 8", "Fit 6", "Fit 7", "Fit 8"], "range": ["M-0.45,-0.45L0.45,0.45M-0.45,0.45L0.45,-0.45", "M0,-0.55L0.52,0.38L-0.52,0.38Z", "M-0.46,-0.46H0.46V0.46H-0.46Z", "M-1.6,-0.12H-0.1V0.12H-1.6Z M0.95,-0.12H1.3V0.12H0.95Z", "M-1.5,-0.12H-0.7V0.12H-1.5Z M0.05,-0.12H0.4V0.12H0.05Z", "M-1.45,-0.12H-1.2V0.12H-1.45Z M-0.6,-0.12H-0.35V0.12H-0.6Z M0.25,-0.12H0.5V0.12H0.25Z M1.1,-0.12H1.35V0.12H1.1Z"]}},
                "fill": {"field": "series", "type": "nominal", "title": null, "legend": {"labelExpr": "indexof(datum.label, 'Fit') == 0 ? 'Fit' : datum.label"}, "scale": {"domain": ["Res 6", "Res 7", "Res 8", "Fit 6", "Fit 7", "Fit 8"], "range": ["transparent", "#008000", "#008000", "#008000", "#008000", "#008000"]}},
                "stroke": {"field": "series", "type": "nominal", "title": null, "legend": {"labelExpr": "indexof(datum.label, 'Fit') == 0 ? 'Fit' : datum.label"}, "scale": {"domain": ["Res 6", "Res 7", "Res 8", "Fit 6", "Fit 7", "Fit 8"], "range": ["#008000", "#000000", "#000000", "transparent", "transparent", "transparent"]}}
              }
            }
          ],
          "resolve": {"axis": {"x": "independent", "y": "independent"}}
        },
        {
          "width": 356, "height": 296,
          "data": {"name": "bot15"},
          "layer": [
            {
              "transform": [{"filter": "indexof(datum.series, 'Fit') == 0"}],
              "mark": {"type": "line", "color": "#0000ff", "strokeWidth": 2.5, "interpolate": "monotone"},
              "encoding": {
                "x": {"field": "n", "type": "quantitative", "scale": {"type": "log", "domain": [0.01, 1000000], "nice": false}, "axis": {"orient": "bottom", "title": "<n>", "tickCount": 30, "labelExpr": "datum.value == 0.1 ? '10⁻¹' : datum.value == 10 ? '10¹' : datum.value == 1000 ? '10³' : datum.value == 100000 ? '10⁵' : ''", "tickSize": {"condition": {"test": "abs(log(datum.value)/LN10 - round(log(datum.value)/LN10)) < 0.001", "value": -8}, "value": -4}, "labelPadding": 22, "titlePadding": 6}},
                "y": {"field": "qi", "type": "quantitative", "scale": {"type": "log", "domain": [100000, 19900000], "nice": false}, "axis": {"orient": "left", "title": null, "labels": false, "tickCount": 30, "tickSize": {"condition": {"test": "abs(log(datum.value)/LN10 - round(log(datum.value)/LN10)) < 0.001", "value": -8}, "value": -4}}},
                "strokeDash": {"field": "series", "type": "nominal", "scale": {"domain": ["Fit 9", "Fit 10", "Fit 11", "Fit 12"], "range": [[1, 0], [12, 12], [7, 8, 3, 8, 3, 8], [2.5, 6]]}, "legend": null}
              }
            },
            {
              "transform": [{"filter": "indexof(datum.series, 'Res') == 0"}],
              "mark": {"type": "point", "filled": true, "opacity": 1, "size": 400, "strokeWidth": 1},
              "encoding": {
                "x": {"field": "n", "type": "quantitative", "scale": {"type": "log", "domain": [0.01, 1000000], "nice": false}, "axis": {"orient": "top", "title": null, "labels": false, "tickCount": 30, "tickSize": {"condition": {"test": "abs(log(datum.value)/LN10 - round(log(datum.value)/LN10)) < 0.001", "value": -8}, "value": -4}}},
                "y": {"field": "qi", "type": "quantitative", "scale": {"type": "log", "domain": [100000, 19900000], "nice": false}, "axis": {"orient": "right", "title": null, "labels": false, "tickCount": 30, "tickSize": {"condition": {"test": "abs(log(datum.value)/LN10 - round(log(datum.value)/LN10)) < 0.001", "value": -8}, "value": -4}}},
                "shape": {"field": "series", "type": "nominal", "title": null, "legend": {"labelExpr": "indexof(datum.label, 'Fit') == 0 ? 'Fit' : datum.label"}, "scale": {"domain": ["Res 9", "Res 10", "Res 11", "Res 12", "Fit 9", "Fit 10", "Fit 11", "Fit 12"], "range": ["M-0.5,0A0.5,0.5,0,1,0,0.5,0A0.5,0.5,0,1,0,-0.5,0Z", "M-0.45,-0.45L0.45,0.45M-0.45,0.45L0.45,-0.45", "M0,-0.55L0.52,0.38L-0.52,0.38Z", "M-0.46,-0.46H0.46V0.46H-0.46Z", "M-1.6,-0.12H1.6V0.12H-1.6Z", "M-1.55,-0.12H-0.35V0.12H-1.55Z M0.9,-0.12H1.4V0.12H0.9Z", "M-1.55,-0.12H-0.95V0.12H-1.55Z M-0.05,-0.12H0.25V0.12H-0.05Z M1.05,-0.12H1.3V0.12H1.05Z", "M-1.5,-0.12H-1.25V0.12H-1.5Z M-0.6,-0.12H-0.35V0.12H-0.6Z M0.25,-0.12H0.5V0.12H0.25Z M1.1,-0.12H1.35V0.12H1.1Z"]}},
                "fill": {"field": "series", "type": "nominal", "title": null, "legend": {"labelExpr": "indexof(datum.label, 'Fit') == 0 ? 'Fit' : datum.label"}, "scale": {"domain": ["Res 9", "Res 10", "Res 11", "Res 12", "Fit 9", "Fit 10", "Fit 11", "Fit 12"], "range": ["#0000ff", "transparent", "#0000ff", "#0000ff", "#0000ff", "#0000ff", "#0000ff", "#0000ff"]}},
                "stroke": {"field": "series", "type": "nominal", "title": null, "legend": {"labelExpr": "indexof(datum.label, 'Fit') == 0 ? 'Fit' : datum.label"}, "scale": {"domain": ["Res 9", "Res 10", "Res 11", "Res 12", "Fit 9", "Fit 10", "Fit 11", "Fit 12"], "range": ["#000000", "#0000ff", "#000000", "#000000", "transparent", "transparent", "transparent", "transparent"]}}
              }
            }
          ],
          "resolve": {"axis": {"x": "independent", "y": "independent"}}
        }
      ],
      "resolve": {"scale": {"x": "independent", "y": "independent", "shape": "independent", "fill": "independent", "stroke": "independent", "strokeDash": "independent"}, "legend": {"shape": "independent", "fill": "independent", "stroke": "independent"}}
    }
  ],
  "spacing": 12,
  "resolve": {"scale": {"x": "independent", "y": "independent", "shape": "independent", "fill": "independent", "stroke": "independent", "strokeDash": "independent"}, "legend": {"shape": "independent", "fill": "independent", "stroke": "independent"}},
  "config": {
    "view": {"stroke": "#000000", "strokeWidth": 2},
    "axis": {"domain": false, "grid": false, "tickColor": "#000000", "tickWidth": 1, "labelFont": "DejaVu Sans", "labelFontSize": 21, "labelColor": "#000000", "titleFont": "DejaVu Sans", "titleFontSize": 22, "titleFontWeight": "normal", "titleColor": "#000000", "labelOverlap": false, "labelFlush": false, "labelBound": false},
    "legend": {"orient": "top-left", "offset": 9, "columns": 2, "gridAlign": "each", "symbolSize": 400, "symbolOffset": 2.5, "clipHeight": 16, "rowPadding": 0, "columnPadding": 31, "labelOffset": 17.5, "padding": 6, "labelFont": "DejaVu Sans", "labelFontSize": 15, "labelColor": "#000000", "strokeColor": "#000000", "strokeWidth": 2, "fillColor": "#ffffff", "cornerRadius": 4, "symbolStrokeWidth": 1, "symbolOpacity": 1},
    "title": {"font": "DejaVu Sans", "fontWeight": "normal"}
  }
}
